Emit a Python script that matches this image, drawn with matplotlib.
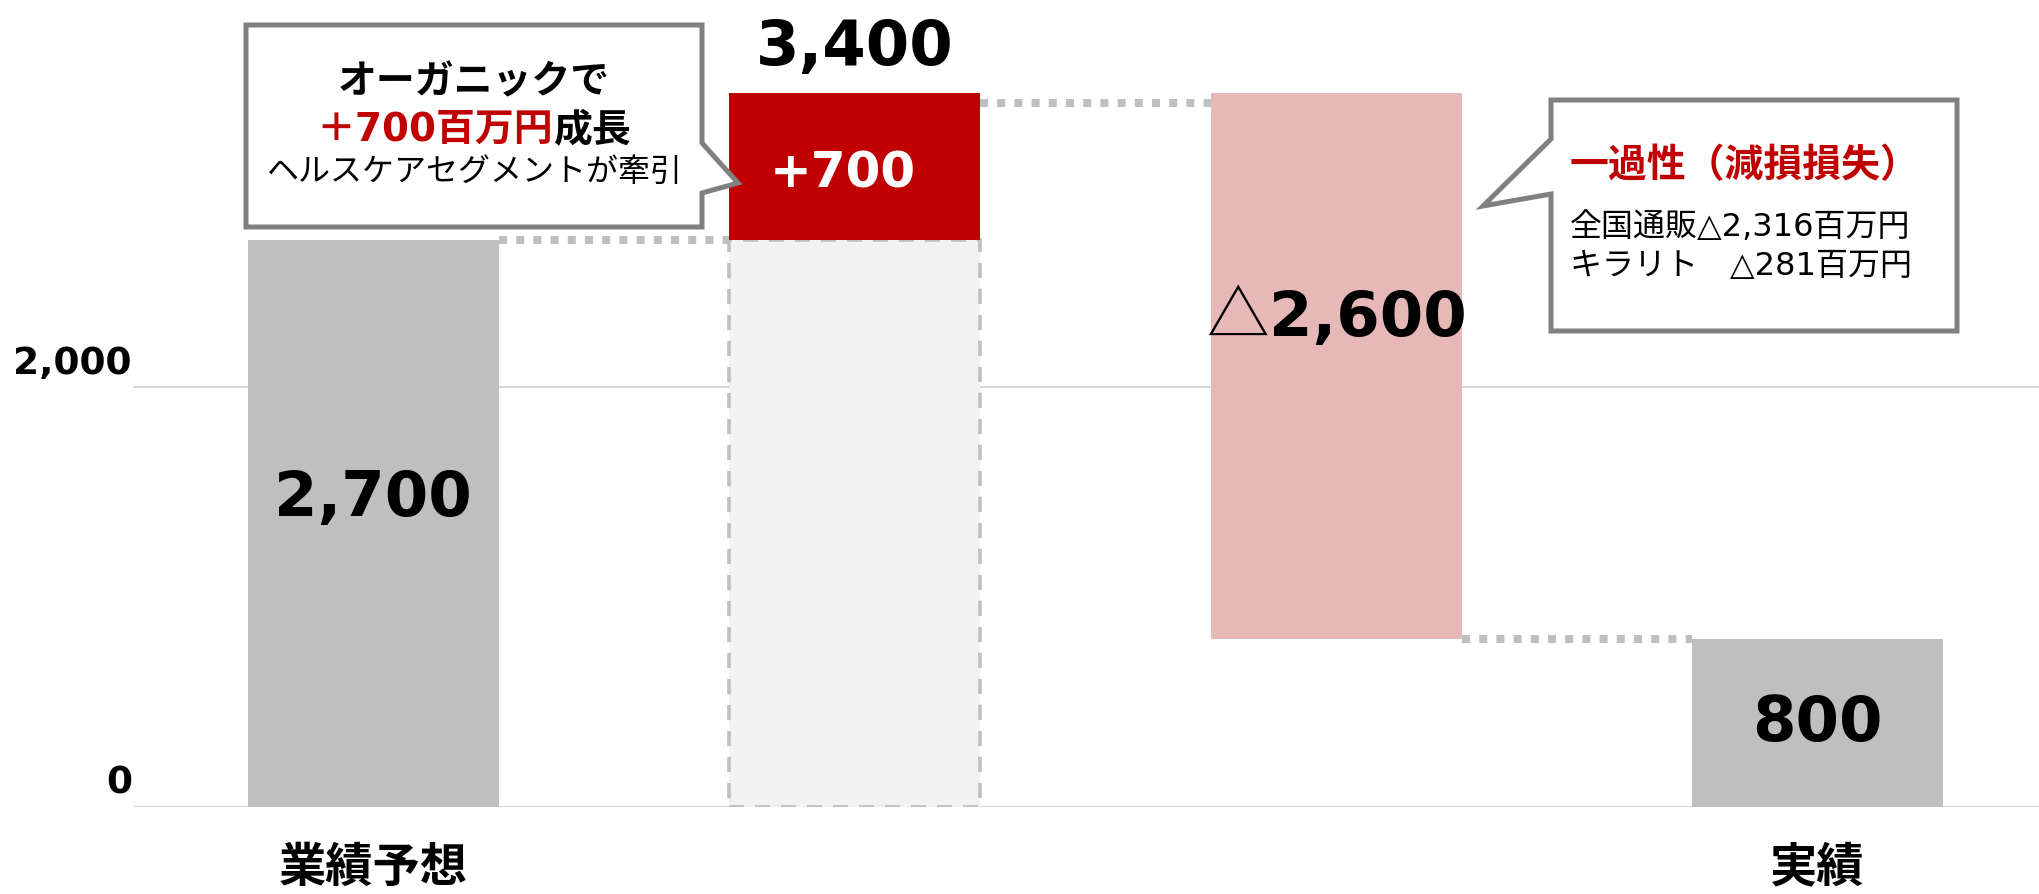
import matplotlib
matplotlib.use("Agg")
import matplotlib.pyplot as plt
from matplotlib.patches import Polygon
from matplotlib import transforms

plt.rcParams["font.family"] = ["DejaVu Sans", "Noto Sans CJK JP"]

# data (百万円)
categories = ["業績予想", "", "", "実績"]
forecast = 2700
organic = 700
impairment = 2600
actual = 800
ticks = [0, 2000]
tick_labels = ["0", "2,000"]

peak = forecast + organic
after = peak - impairment
bottoms = [0, forecast, after, 0]
heights = [forecast, organic, impairment, actual]
colors = ["#bfbfbf", "#c00000", "#e6b8b7", "#bfbfbf"]

W, H = 2040, 895
fig = plt.figure(figsize=(W / 100, H / 100), dpi=100)
ax = fig.add_axes([133 / W, 87.3 / H, 1 - 133 / W, 807.7 / H])
ax.set_xlim(-0.499, 3.462)
ax.set_ylim(0, 3849)
ax.axis("off")

bw = 0.521
xs = list(range(len(heights)))

for t in ticks:
    ax.axhline(t, color="#d9d9d9", lw=1.5, zorder=0)

# ghost bar under the increase
ax.bar(1, forecast, bw, color="#f2f2f2", edgecolor="#bfbfbf",
       linestyle=(0, (4.2, 3)), linewidth=2.6, zorder=1)
ax.bar(xs, heights, bw, bottom=bottoms, color=colors, zorder=2)

# dotted connectors
levels = [forecast, peak, after]
shift = [0, -10, 0]
for i, lvl in enumerate(levels):
    tr = transforms.offset_copy(ax.transData, fig=fig, y=shift[i] * 0.72, units="points")
    ax.plot([i + bw / 2, i + 1 - bw / 2], [lvl, lvl], color="#bfbfbf", lw=5.76,
            linestyle=(0, (1.0, 1.15)), transform=tr, zorder=1)

renderer = fig.canvas.get_renderer()


def row(segs, xd, yd, ha="center", va="baseline"):
    # segs placed side by side, xd/yd in display pixels
    items = []
    for s, kw in segs:
        t = fig.text(0, yd / H, s, ha="left", va=va, zorder=6, **kw)
        items.append((t, t.get_window_extent(renderer).width))
    total = sum(w for _, w in items)
    left = xd - total / 2 if ha == "center" else xd
    for t, w in items:
        t.set_x(left / W)
        left += w


def disp(x, y):
    return ax.transData.transform((x, y))


big = dict(fontsize=45, fontweight="bold", color="black")

# value labels
px, py = disp(0, forecast * 0.515)
row([(f"{forecast:,}", big)], px, py)
px, py = disp(1, forecast + organic * 0.367)
row([(f"+{organic:,}", dict(fontsize=36, fontweight="bold", color="white"))], px - 12, py)
px, py = disp(1, peak)
row([(f"{peak:,}", big)], px, py + 29)
px, py = disp(2, after + impairment * 0.557)
row([("△", dict(fontsize=45, fontweight="normal", color="black", family="Noto Sans CJK JP")),
     (f"{impairment:,}", big)], px, py)
px, py = disp(3, actual * 0.40)
row([(f"{actual:,}", big)], px, py)

# y tick labels
for t, lab in zip(ticks, tick_labels):
    px, py = disp(0, t)
    fig.text(132 / W, (py + 14) / H, lab, ha="right", va="baseline",
             fontsize=27, fontweight="bold")

# category labels
tr = transforms.blended_transform_factory(ax.transData, fig.transFigure)
for i, c in enumerate(categories):
    if c:
        ax.text(i, 1 - 869 / H, c, transform=tr, ha="center", va="center",
                fontsize=34, fontweight="bold", clip_on=False)


def callout(pts):
    poly = Polygon([(x / W, 1 - y / H) for x, y in pts], closed=True,
                   transform=fig.transFigure, facecolor="white",
                   edgecolor="#808080", lw=3.6, joinstyle="miter", zorder=5)
    fig.add_artist(poly)


callout([(246, 26), (702, 26), (702, 144), (738, 184), (702, 194),
         (702, 228), (246, 228)])
callout([(1551, 101), (1957, 101), (1957, 332), (1551, 332), (1551, 195),
         (1483, 207), (1551, 140)])

red = "#c00000"
cx = 474
row([("オーガニックで", dict(fontsize=28, fontweight="bold"))], cx, H - 82, va="center")
row([("＋700百万円", dict(fontsize=28, fontweight="bold", color=red)),
     ("成長", dict(fontsize=28, fontweight="bold"))], cx, H - 130, va="center")
row([("ヘルスケアセグメントが牽引", dict(fontsize=23))], cx, H - 172, va="center")

row([("一過性（減損損失）", dict(fontsize=28, fontweight="bold", color=red))],
    1570, H - 166, ha="left", va="center")
row([("全国通販△2,316百万円", dict(fontsize=23))], 1570, H - 228, ha="left", va="center")
row([("キラリト　△281百万円", dict(fontsize=23))], 1570, H - 267, ha="left", va="center")

fig.savefig("out.png", dpi=100)
